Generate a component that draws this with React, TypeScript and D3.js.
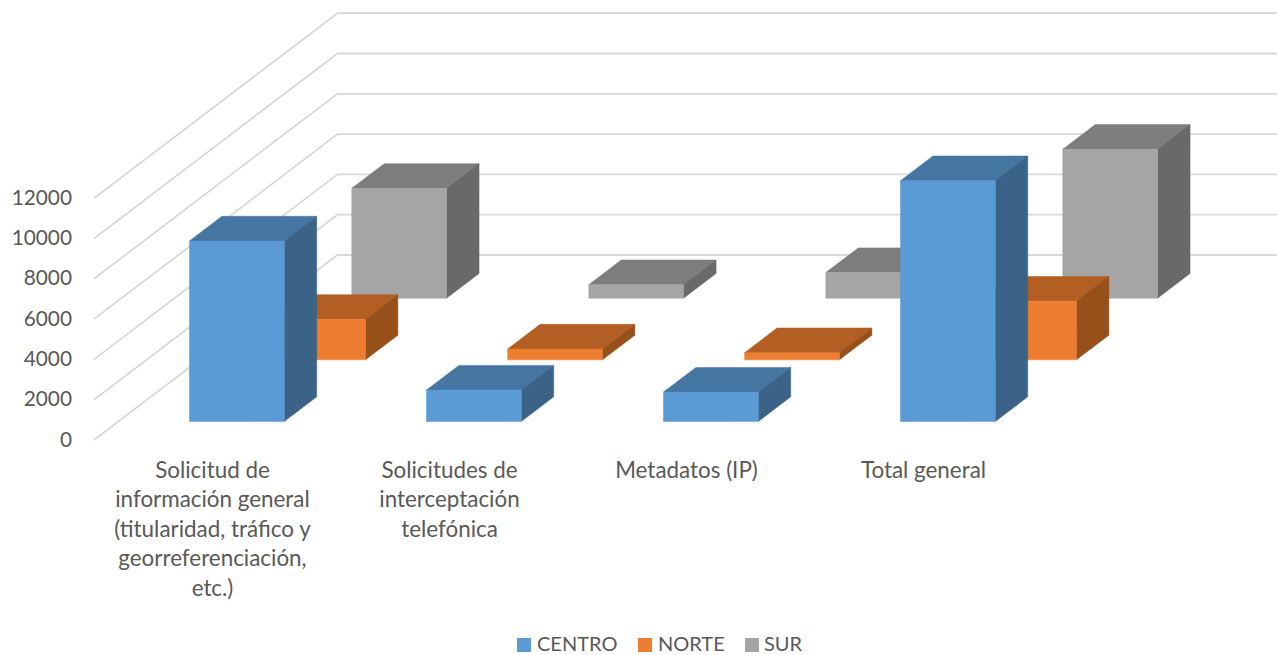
import React from "react";
import * as d3 from "d3";

const categories = [
  "Solicitud de información general (titularidad, tráfico y georreferenciación, etc.)",
  "Solicitudes de interceptación telefónica",
  "Metadatos (IP)",
  "Total general",
];
const categoryLines = [
  ["Solicitud de", "información general", "(titularidad, tráfico y", "georreferenciación,", "etc.)"],
  ["Solicitudes de", "interceptación", "telefónica"],
  ["Metadatos (IP)"],
  ["Total general"],
];
const seriesNames = ["CENTRO", "NORTE", "SUR"];
const centro = [8960, 1560, 1460, 11950];
const norte = [2010, 536, 357, 2910];
const sur = [5450, 670, 1270, 7390];
const seriesValues = [centro, norte, sur];
const ticks = [0, 2000, 4000, 6000, 8000, 10000, 12000];
const frontColors = ["#5B9BD5", "#ED7D31", "#A5A5A5"];
const topColors = ["#4575A1", "#B35E22", "#7D7D7D"];
const sideColors = ["#3A6387", "#98501B", "#696969"];
const legendSwatchX = [517, 638, 745];
const legendTextX = [537, 658, 764];

const W = 1277;
const H = 655;
const FONT = "Lato, sans-serif";

export default function App() {
  const x = d3.scaleBand<string>().domain(categories).range([94, 1042]);
  const y = d3.scaleLinear().domain([0, 12000]).range([0, 241.8]);
  const depthX = d3.scaleLinear().domain([0, 3]).range([0, 243.5]);
  const depthY = d3.scaleLinear().domain([0, 3]).range([440, 255]);
  const bw = x.bandwidth();

  const pt = (px: number, d: number, v: number): [number, number] => [
    px + depthX(d),
    depthY(d) - y(v),
  ];
  const poly = (pts: [number, number][]) => pts.map((p) => p.join(",")).join(" ");

  const order = [2, 1, 0];

  return (
    <svg
      width={W}
      height={H}
      viewBox={`0 0 ${W} ${H}`}
      style={{ position: "absolute", left: 0, top: 0, background: "#fff" }}
    >
      {ticks.map((t) => {
        const a = pt(94, 0, t);
        const b = pt(94, 3, t);
        const c = pt(1042, 3, t);
        return (
          <polyline
            key={t}
            points={poly([a, b, c])}
            fill="none"
            stroke="#D9D9D9"
            strokeWidth={1.8}
          />
        );
      })}
      {ticks.map((t) => (
        <text
          key={t}
          x={72}
          y={pt(94, 0, t)[1] + 6.5}
          textAnchor="end"
          fontFamily={FONT}
          fontSize={20.8}
          fill="#595959"
        >
          {t}
        </text>
      ))}
      {order.map((s) =>
        categories.map((c, i) => {
          const v = seriesValues[s][i];
          const l = (x(c) as number) + 0.3 * bw;
          const r = l + 0.4 * bw;
          const d0 = s + 0.3;
          const d1 = s + 0.7;
          return (
            <g key={`${s}-${i}`} strokeWidth={0.5} strokeLinejoin="round">
              <polygon
                points={poly([pt(l, d0, v), pt(l, d1, v), pt(r, d1, v), pt(r, d0, v)])}
                fill={topColors[s]}
                stroke={topColors[s]}
              />
              <polygon
                points={poly([pt(r, d0, v), pt(r, d1, v), pt(r, d1, 0), pt(r, d0, 0)])}
                fill={sideColors[s]}
                stroke={sideColors[s]}
              />
              <polygon
                points={poly([pt(l, d0, v), pt(r, d0, v), pt(r, d0, 0), pt(l, d0, 0)])}
                fill={frontColors[s]}
                stroke={frontColors[s]}
              />
            </g>
          );
        })
      )}
      {categories.map((c, i) => (
        <text
          key={c}
          textAnchor="middle"
          fontFamily={FONT}
          fontSize={22.4}
          fill="#595959"
        >
          {categoryLines[i].map((ln, j) => (
            <tspan key={j} x={(x(c) as number) + bw / 2} y={477.5 + j * 29.5}>
              {ln}
            </tspan>
          ))}
        </text>
      ))}
      {seriesNames.map((n, i) => (
        <g key={n}>
          <rect x={legendSwatchX[i]} y={638} width={14} height={14} fill={frontColors[i]} />
          <text x={legendTextX[i]} y={650.5} fontFamily={FONT} fontSize={20} fill="#595959">
            {n}
          </text>
        </g>
      ))}
    </svg>
  );
}
